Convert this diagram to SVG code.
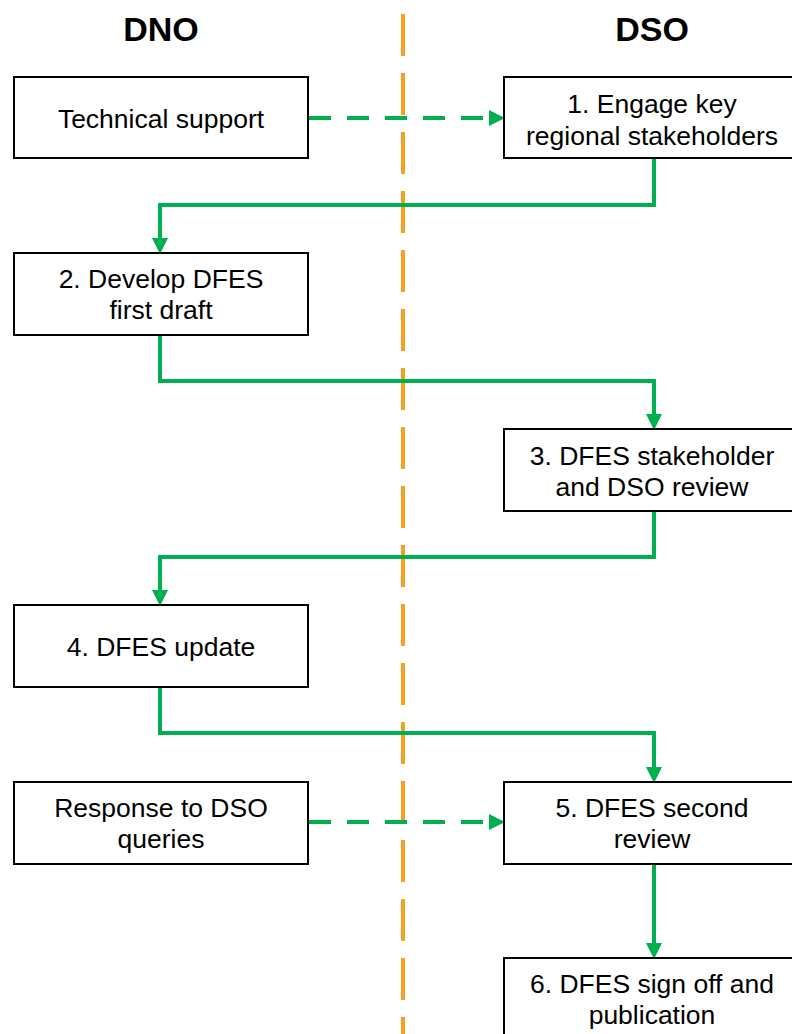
<svg xmlns="http://www.w3.org/2000/svg" width="792" height="1034" viewBox="0 0 792 1034">
<defs>
<style>
.box{fill:#fff;stroke:#000;stroke-width:2}
.t{font-family:"Liberation Sans",Arial,sans-serif;font-size:26.5px;fill:#000;text-anchor:middle}
.h{font-family:"Liberation Sans",Arial,sans-serif;font-size:34px;font-weight:bold;fill:#000;text-anchor:middle}
.c{fill:none;stroke:#00B050;stroke-width:4;stroke-linejoin:miter}
.d{fill:none;stroke:#00B050;stroke-width:4;stroke-dasharray:22 16}
.lane{stroke:#F79F1F;stroke-width:4;stroke-dasharray:42 17}
</style>
<marker id="ah" markerWidth="4" markerHeight="4" refX="0" refY="2" orient="auto" markerUnits="strokeWidth">
<path d="M0,0 L4,2 L0,4 Z" fill="#00B050"/>
</marker>
</defs>
<rect width="792" height="1034" fill="#fff"/>
<g id="lane">
<line class="lane" x1="403" y1="14" x2="403" y2="1034"/>
<text class="h" x="161" y="41">DNO</text>
<text class="h" x="652" y="41">DSO</text>
</g>
<g id="connectors">
<path class="d" d="M309,118 L489,118" marker-end="url(#ah)"/>
<path class="c" d="M654,158 V205 H160 V238" marker-end="url(#ah)"/>
<path class="c" d="M160,335 V381 H654 V414" marker-end="url(#ah)"/>
<path class="c" d="M654,511 V557 H160 V590" marker-end="url(#ah)"/>
<path class="c" d="M160,687 V733 H654 V767" marker-end="url(#ah)"/>
<path class="d" d="M309,822 L489,822" marker-end="url(#ah)"/>
<path class="c" d="M654,864 V943" marker-end="url(#ah)"/>
</g>
<g id="n-tech"><rect class="box" x="14" y="77" width="294" height="81"/><text class="t" x="161" y="128">Technical support</text></g>
<g id="n1"><rect class="box" x="504" y="77" width="300" height="81"/><text class="t" x="652" y="113">1. Engage key</text><text class="t" x="652" y="145">regional stakeholders</text></g>
<g id="n2"><rect class="box" x="14" y="253" width="294" height="82"/><text class="t" x="161" y="288">2. Develop DFES</text><text class="t" x="161" y="319">first draft</text></g>
<g id="n3"><rect class="box" x="504" y="429" width="300" height="82"/><text class="t" x="652" y="465">3. DFES stakeholder</text><text class="t" x="652" y="496">and DSO review</text></g>
<g id="n4"><rect class="box" x="14" y="605" width="294" height="82"/><text class="t" x="161" y="656">4. DFES update</text></g>
<g id="n-resp"><rect class="box" x="14" y="782" width="294" height="82"/><text class="t" x="161" y="817">Response to DSO</text><text class="t" x="161" y="848">queries</text></g>
<g id="n5"><rect class="box" x="504" y="782" width="300" height="82"/><text class="t" x="652" y="817">5. DFES second</text><text class="t" x="652" y="848">review</text></g>
<g id="n6"><rect class="box" x="504" y="958" width="300" height="90"/><text class="t" x="652" y="993">6. DFES sign off and</text><text class="t" x="652" y="1024">publication</text></g>
</svg>
